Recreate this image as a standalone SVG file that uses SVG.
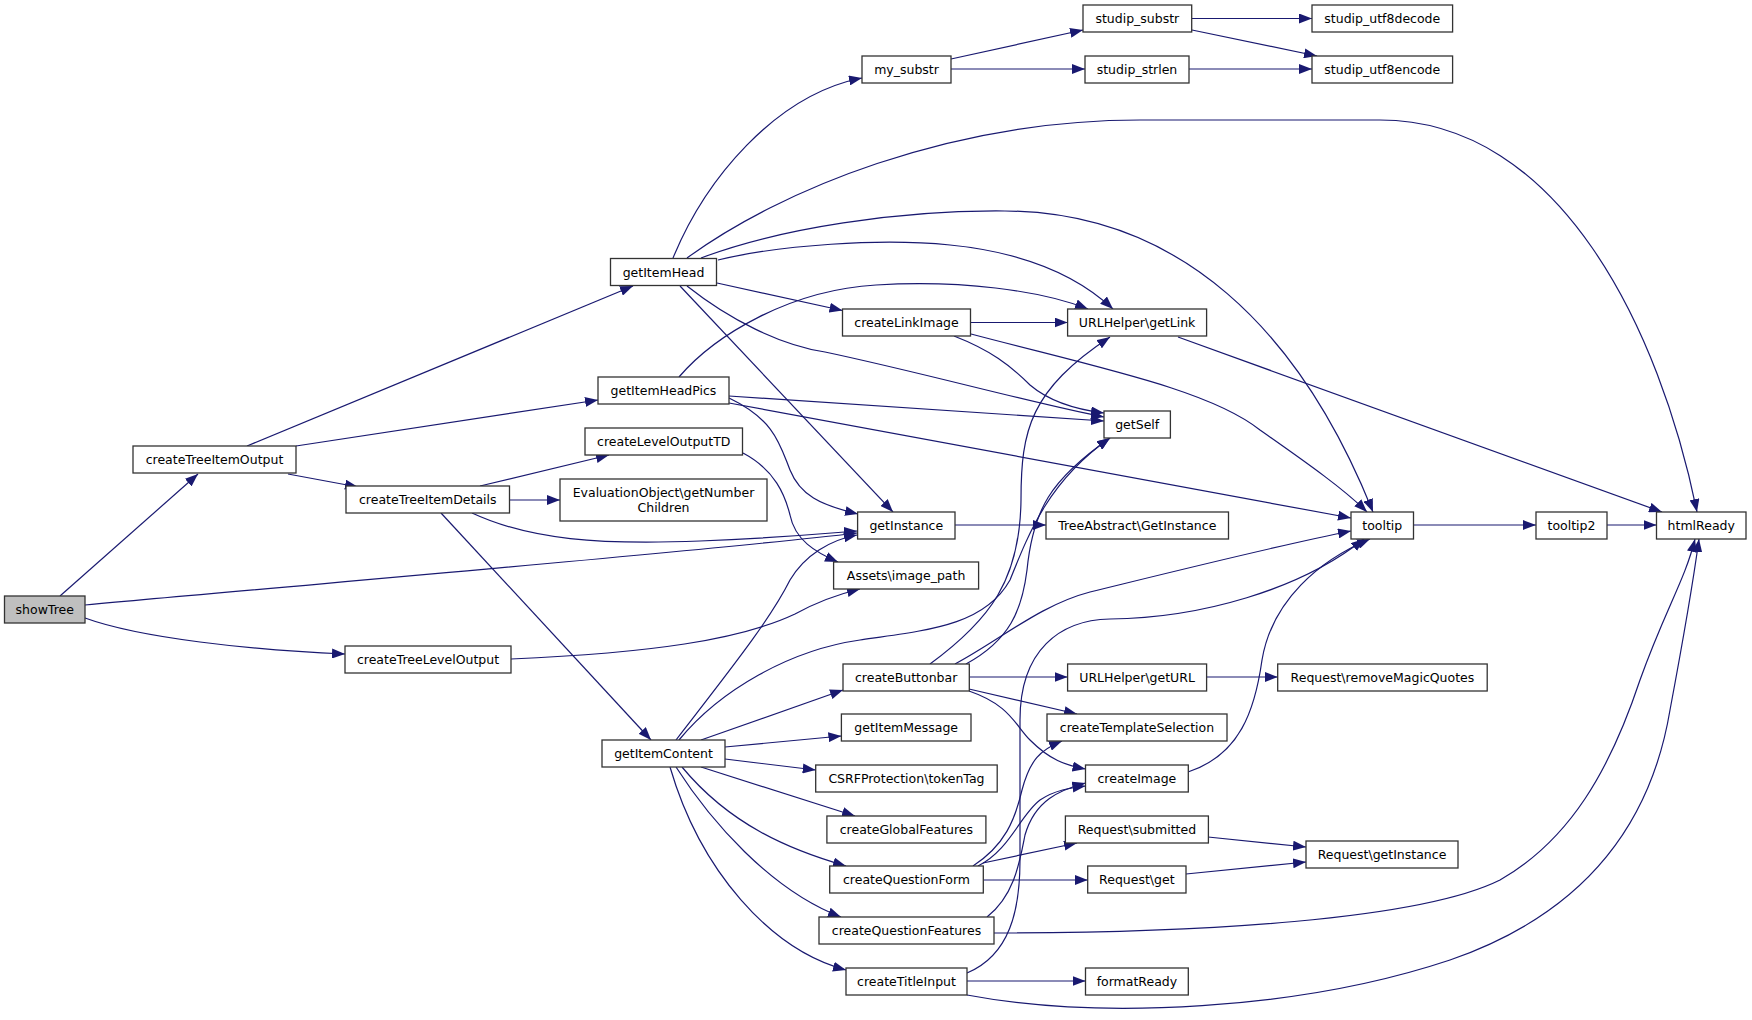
<svg xmlns="http://www.w3.org/2000/svg" width="1752" height="1020" viewBox="0 0 1752 1020">
<style>
.node rect{fill:#fff;stroke:#333;stroke-width:1.3}
.node.root rect{fill:#bfbfbf}
.node text{font-family:"DejaVu Sans","Liberation Sans",sans-serif;font-size:12.5px;text-anchor:middle;fill:#000}
.edges path{fill:none;stroke:#191970;stroke-width:1.2;marker-end:url(#arr)}
</style>
<defs>
<marker id="arr" markerUnits="userSpaceOnUse" markerWidth="13" markerHeight="10" refX="13" refY="5" orient="auto"><path d="M0,0 L13,5 L0,10 z" fill="#191970"/></marker>
</defs>
<rect width="1752" height="1020" fill="#fff"/>
<g class="edges">
<path d="M60,596 L198,474"/>
<path d="M85,605 C 300,585 700,552 857,533"/>
<path d="M85,618 C 140,638 250,650 345,654"/>
<path d="M247,446 L633,286"/>
<path d="M296,446 L598,400"/>
<path d="M288,474 L358,487"/>
<path d="M480,486 L609,455"/>
<path d="M509.5,500 L560,500"/>
<path d="M472,513 C 530,540 600,545 700,541 C 780,538 830,533 857,531"/>
<path d="M441,513 L651,740"/>
<path d="M511,659 C 650,653 740,640 795,614 C 815,603 835,595 860,589"/>
<path d="M743,453 C 775,470 785,495 790,515 C 795,540 815,552 838,562"/>
<path d="M673,258 C 705,180 775,95 862,78"/>
<path d="M687,258 C 780,190 950,120 1140,120 L1380,120 C 1560,120 1660,330 1697,512"/>
<path d="M701,258 C 780,228 900,210 1005,211 C 1180,212 1300,330 1373,512"/>
<path d="M718,260 C 780,245 880,238 950,245 C 1030,253 1080,278 1113,309"/>
<path d="M717,283 L842.5,310.5"/>
<path d="M687,286 C 730,320 780,345 825,352 C 920,372 1040,405 1104,417"/>
<path d="M680,286 L893,512"/>
<path d="M679,377 C 715,335 790,290 876,285 C 960,280 1040,290 1088,309"/>
<path d="M729,396 L1104,421"/>
<path d="M729,403 L1351,518"/>
<path d="M729,398 C 775,420 780,445 790,470 C 800,495 820,505 858,514"/>
<path d="M951,59 L1083,30"/>
<path d="M951,69 L1085,69"/>
<path d="M1192,18.5 L1312,18.5"/>
<path d="M1192,30 L1317,56"/>
<path d="M1189,69 L1312,69"/>
<path d="M970.5,322.5 L1067.6,322.5"/>
<path d="M954,336 C 990,350 1010,365 1030,385 C 1050,402 1080,410 1104,413"/>
<path d="M971,334 C 1100,368 1210,390 1260,430 C 1310,465 1345,490 1367,512"/>
<path d="M1178,337 L1662,512"/>
<path d="M955,525 L1046,525"/>
<path d="M1413.5,525 L1536,525"/>
<path d="M1607,525 L1656.5,525"/>
<path d="M676,740 C 730,670 770,620 790,580 C 805,555 830,540 857,535"/>
<path d="M679,740 C 720,690 790,650 860,640 C 930,630 985,625 1010,580 C 1030,530 1050,480 1110,438"/>
<path d="M701,740 L843,690"/>
<path d="M725,747 L841.4,736"/>
<path d="M725,759 L815.7,770"/>
<path d="M701,767 L855,816"/>
<path d="M682,767 C 730,825 790,850 846,866"/>
<path d="M676,767 C 710,820 770,890 841,917"/>
<path d="M670,767 C 700,870 770,950 846,970"/>
<path d="M930,664 C 990,620 1020,580 1021,500 C 1021,430 1030,390 1110,337"/>
<path d="M966,664 C 1010,640 1022,610 1027,570 C 1033,510 1050,480 1110,438"/>
<path d="M955,664 C 1000,640 1040,605 1090,592 C 1180,570 1280,545 1351,531"/>
<path d="M969.3,677 L1067.6,677"/>
<path d="M969,689 L1077,714"/>
<path d="M969,691 C 1010,705 1015,725 1030,740 C 1050,760 1065,765 1085.5,769"/>
<path d="M1206.7,677 L1277.7,677"/>
<path d="M1188,772 C 1240,755 1255,710 1262,660 C 1272,600 1320,560 1370,539"/>
<path d="M973,866 C 1005,845 1015,820 1022,790 C 1030,760 1040,750 1062,741"/>
<path d="M978,866 C 1010,850 1020,815 1040,800 C 1055,790 1070,788 1085.5,786"/>
<path d="M983,863 L1077,843"/>
<path d="M983.3,880 L1087.7,880"/>
<path d="M987,917 C 1015,895 1020,860 1025,835 C 1035,800 1060,790 1085.5,783"/>
<path d="M994,933 C 1200,933 1420,920 1500,880 C 1570,840 1610,770 1640,680 C 1665,610 1685,580 1695,539"/>
<path d="M967,981 L1085.5,981"/>
<path d="M967,995 C 1100,1020 1300,1010 1450,960 C 1580,915 1650,830 1670,710 C 1685,630 1692,590 1699,539"/>
<path d="M967,973 C 1010,955 1020,910 1020,860 L1020,720 C 1020,650 1060,620 1110,619 C 1200,618 1300,590 1364,539"/>
<path d="M1208,837 L1306,847"/>
<path d="M1186,874 L1306,862"/>
</g>
<g id="showTree" class="node root"><rect x="4.5" y="596" width="80.5" height="27"/><text x="44.75" y="614">showTree</text></g>
<g id="createTreeItemOutput" class="node"><rect x="133" y="446" width="163" height="27"/><text x="214.5" y="464">createTreeItemOutput</text></g>
<g id="createTreeItemDetails" class="node"><rect x="346" y="486" width="163.5" height="27"/><text x="427.75" y="504">createTreeItemDetails</text></g>
<g id="createTreeLevelOutput" class="node"><rect x="345" y="646" width="166" height="27"/><text x="428" y="664">createTreeLevelOutput</text></g>
<g id="getItemHead" class="node"><rect x="610.5" y="258.5" width="106" height="27"/><text x="663.5" y="276.5">getItemHead</text></g>
<g id="getItemHeadPics" class="node"><rect x="598" y="377" width="131" height="27"/><text x="663.5" y="395">getItemHeadPics</text></g>
<g id="createLevelOutputTD" class="node"><rect x="585" y="428" width="157.5" height="27"/><text x="663.75" y="446">createLevelOutputTD</text></g>
<g id="EvaluationObject_getNumberChildren" class="node"><rect x="560" y="479" width="207" height="42"/><text x="663.5" y="496.5">EvaluationObject\getNumber</text><text x="663.5" y="511.5">Children</text></g>
<g id="getItemContent" class="node"><rect x="602" y="740" width="123" height="27"/><text x="663.5" y="758">getItemContent</text></g>
<g id="my_substr" class="node"><rect x="862" y="56" width="89" height="27"/><text x="906.5" y="74">my_substr</text></g>
<g id="studip_substr" class="node"><rect x="1083" y="5" width="108.7" height="27"/><text x="1137.35" y="23">studip_substr</text></g>
<g id="studip_strlen" class="node"><rect x="1085" y="56" width="104" height="27"/><text x="1137" y="74">studip_strlen</text></g>
<g id="studip_utf8decode" class="node"><rect x="1312" y="5" width="140.6" height="27"/><text x="1382.3" y="23">studip_utf8decode</text></g>
<g id="studip_utf8encode" class="node"><rect x="1312" y="56" width="140.6" height="27"/><text x="1382.3" y="74">studip_utf8encode</text></g>
<g id="createLinkImage" class="node"><rect x="842.5" y="309" width="128" height="27"/><text x="906.5" y="327">createLinkImage</text></g>
<g id="URLHelper_getLink" class="node"><rect x="1067.6" y="309" width="139" height="27"/><text x="1137.1" y="327">URLHelper\getLink</text></g>
<g id="getSelf" class="node"><rect x="1104" y="411" width="66.4" height="27"/><text x="1137.2" y="429">getSelf</text></g>
<g id="getInstance" class="node"><rect x="857.6" y="512" width="97.4" height="27"/><text x="906.3" y="530">getInstance</text></g>
<g id="TreeAbstract_GetInstance" class="node"><rect x="1046" y="512" width="182.5" height="27"/><text x="1137.25" y="530">TreeAbstract\GetInstance</text></g>
<g id="Assets_image_path" class="node"><rect x="833.6" y="562" width="145" height="27"/><text x="906.1" y="580">Assets\image_path</text></g>
<g id="tooltip" class="node"><rect x="1351" y="512" width="62.5" height="27"/><text x="1382.25" y="530">tooltip</text></g>
<g id="tooltip2" class="node"><rect x="1536" y="512" width="71" height="27"/><text x="1571.5" y="530">tooltip2</text></g>
<g id="htmlReady" class="node"><rect x="1656.5" y="512" width="89.5" height="27"/><text x="1701.25" y="530">htmlReady</text></g>
<g id="createButtonbar" class="node"><rect x="843" y="664" width="126.3" height="27"/><text x="906.15" y="682">createButtonbar</text></g>
<g id="URLHelper_getURL" class="node"><rect x="1067.6" y="664" width="139" height="27"/><text x="1137.1" y="682">URLHelper\getURL</text></g>
<g id="Request_removeMagicQuotes" class="node"><rect x="1277.7" y="664" width="209.5" height="27"/><text x="1382.45" y="682">Request\removeMagicQuotes</text></g>
<g id="getItemMessage" class="node"><rect x="841.4" y="714" width="129.6" height="27"/><text x="906.2" y="732">getItemMessage</text></g>
<g id="createTemplateSelection" class="node"><rect x="1047" y="714" width="180" height="27"/><text x="1137" y="732">createTemplateSelection</text></g>
<g id="CSRFProtection_tokenTag" class="node"><rect x="815.7" y="765" width="181.5" height="27"/><text x="906.45" y="783">CSRFProtection\tokenTag</text></g>
<g id="createImage" class="node"><rect x="1085.5" y="765" width="102.8" height="27"/><text x="1136.9" y="783">createImage</text></g>
<g id="createGlobalFeatures" class="node"><rect x="826.9" y="816" width="159" height="27"/><text x="906.4" y="834">createGlobalFeatures</text></g>
<g id="Request_submitted" class="node"><rect x="1065.4" y="816" width="143" height="27"/><text x="1136.9" y="834">Request\submitted</text></g>
<g id="Request_getInstance" class="node"><rect x="1306" y="841" width="152" height="27"/><text x="1382" y="859">Request\getInstance</text></g>
<g id="createQuestionForm" class="node"><rect x="829.7" y="866" width="153.6" height="27"/><text x="906.5" y="884">createQuestionForm</text></g>
<g id="Request_get" class="node"><rect x="1087.7" y="866" width="98.3" height="27"/><text x="1136.85" y="884">Request\get</text></g>
<g id="createQuestionFeatures" class="node"><rect x="819" y="917" width="175" height="27"/><text x="906.5" y="935">createQuestionFeatures</text></g>
<g id="createTitleInput" class="node"><rect x="846" y="968" width="121" height="27"/><text x="906.5" y="986">createTitleInput</text></g>
<g id="formatReady" class="node"><rect x="1085.5" y="968" width="102.8" height="27"/><text x="1136.9" y="986">formatReady</text></g>
</svg>
